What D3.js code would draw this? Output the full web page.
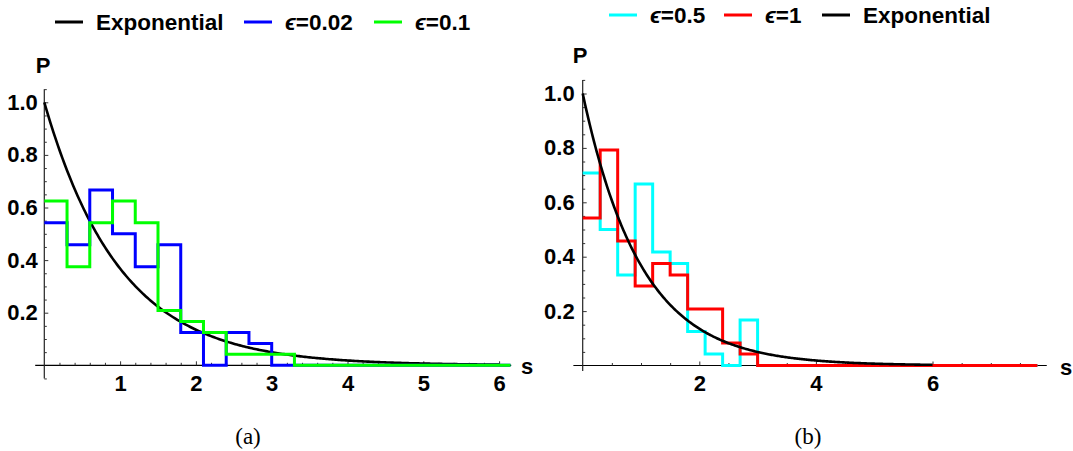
<!DOCTYPE html>
<html>
<head>
<meta charset="utf-8">
<script src="https://cdn.jsdelivr.net/npm/d3@7/dist/d3.min.js"></script>
<style>
  html, body { margin: 0; padding: 0; background: #fff; }
  svg text { font-family: "Liberation Sans", Arial, sans-serif; font-weight: bold; fill: #000; }
</style>
</head>
<body>
<svg id="chart" width="1073" height="451"></svg>
<script>
// ---------------- DATA ----------------
const binWidth = 0.3;                 // histogram bin width in s
// Panel (a) histograms (bins start at s = 0)
const eps002 = [0.542, 0.458, 0.667, 0.500, 0.375, 0.458, 0.125, 0.000, 0.125, 0.083, 0.000];
const eps01  = [0.625, 0.375, 0.542, 0.625, 0.542, 0.208, 0.167, 0.125, 0.042, 0.042, 0.042, 0.000];
const histEndA = 6.15;
// Panel (b) histograms
const eps05  = [0.708, 0.500, 0.333, 0.667, 0.417, 0.375, 0.125, 0.042, 0.000, 0.167, 0.000];
const eps1   = [0.542, 0.792, 0.458, 0.292, 0.375, 0.333, 0.208, 0.208, 0.083, 0.042, 0.000];
const histEndB = 7.8;
// Exponential reference curve P(s) = exp(-s), drawn for s in [0, 6]
const expRange = [0, 6];
// Ticks
const yMajorTicks = [0.2, 0.4, 0.6, 0.8, 1.0];
const yTickLabels = ["0.2", "0.4", "0.6", "0.8", "1.0"];
const xMajorTicksA = [1, 2, 3, 4, 5, 6];
const xMajorTicksB = [2, 4, 6];
const legendA = ["Exponential", "ϵ=0.02", "ϵ=0.1"];
const legendB = ["ϵ=0.5", "ϵ=1", "Exponential"];
const captions = ["(a)", "(b)"];

// ---------------- LAYOUT ----------------
const svg = d3.select("#chart");
svg.append("rect").attr("width", 1073).attr("height", 451).attr("fill", "#fff");

const colors = { exp: "#000000", e002: "#0000ff", e01: "#00ff00", e05: "#00ffff", e1: "#ff0000" };
const tickFont = 22, legFont = 22.5;

function stepPoints(vals, end) {
  const pts = vals.map((v, i) => [i * binWidth, v]);
  pts.push([end, vals[vals.length - 1]]);
  return pts;
}
function expPoints() {
  const n = 300, pts = [];
  for (let i = 0; i <= n; i++) {
    const s = expRange[0] + (expRange[1] - expRange[0]) * i / n;
    pts.push([s, Math.exp(-s)]);
  }
  return pts;
}

function panel(cfg) {
  const x = d3.scaleLinear().domain([0, 6]).range(cfg.xr);
  const y = d3.scaleLinear().domain([0, 1]).range(cfg.yr);
  const g = svg.append("g");

  // axis lines
  g.append("line").attr("x1", x(cfg.xAxisExt[0])).attr("x2", x(cfg.xAxisExt[1]))
    .attr("y1", y(0)).attr("y2", y(0)).attr("stroke", "#000").attr("stroke-width", 1.2);
  g.append("line").attr("x1", x(0)).attr("x2", x(0))
    .attr("y1", y(cfg.yAxisExt[0])).attr("y2", y(cfg.yAxisExt[1])).attr("stroke", "#222").attr("stroke-width", 1.2);

  const styleText = a => a.selectAll("text").attr("font-size", tickFont)
    .attr("font-family", "Liberation Sans, Arial, sans-serif").attr("font-weight", "bold").attr("fill", "#000");

  // x minor ticks
  const xMin = d3.range(Math.round(cfg.xMinorEnd / cfg.xMinorStep) + 1).map(i => +(i * cfg.xMinorStep).toFixed(3))
    .filter(v => v > 0 && !cfg.xMajor.includes(v));
  g.append("g").attr("transform", `translate(0,${y(0)})`)
    .call(d3.axisBottom(x).tickValues(xMin).tickSize(-2.5).tickSizeOuter(0).tickFormat(""))
    .call(a => a.select(".domain").remove())
    .call(a => a.selectAll("line").attr("stroke", "#333"));
  // x major ticks + labels
  g.append("g").attr("transform", `translate(0,${y(0)})`)
    .call(d3.axisBottom(x).tickValues(cfg.xMajor).tickSize(-4).tickSizeOuter(0).tickPadding(10).tickFormat(d3.format("d")))
    .call(a => a.select(".domain").remove())
    .call(a => a.selectAll("line").attr("stroke", "#333"))
    .call(styleText);

  // y minor ticks
  const yMin = d3.range(-1, 22).map(i => +(i * 0.05).toFixed(3))
    .filter(v => v >= cfg.yAxisExt[0] - 1e-6 && v <= cfg.yAxisExt[1] + 1e-6 && v !== 0 && !yMajorTicks.includes(v));
  g.append("g").attr("transform", `translate(${x(0)},0)`)
    .call(d3.axisLeft(y).tickValues(yMin).tickSize(-2.5).tickSizeOuter(0).tickFormat(""))
    .call(a => a.select(".domain").remove())
    .call(a => a.selectAll("line").attr("stroke", "#333"));
  g.append("g").attr("transform", `translate(${x(0)},0)`)
    .call(d3.axisLeft(y).tickValues(yMajorTicks).tickSize(-4).tickSizeOuter(0).tickPadding(cfg.yPad)
      .tickFormat((d, i) => yTickLabels[i]))
    .call(a => a.select(".domain").remove())
    .call(a => a.selectAll("line").attr("stroke", "#333"))
    .call(styleText);

  // axis labels
  g.append("text").attr("x", cfg.pPos[0]).attr("y", cfg.pPos[1]).attr("text-anchor", "middle").attr("font-size", tickFont).text("P");
  g.append("text").attr("x", cfg.sPos[0]).attr("y", cfg.sPos[1]).attr("text-anchor", "middle").attr("font-size", tickFont).text("s");

  const line = d3.line().x(d => x(d[0])).y(d => y(d[1]));
  const stepLine = d3.line().x(d => x(d[0])).y(d => y(d[1])).curve(d3.curveStepAfter);

  cfg.series.forEach(s => {
    if (s.type === "exp") {
      g.append("path").attr("d", line(expPoints())).attr("fill", "none")
        .attr("stroke", s.color).attr("stroke-width", 2.6);
    } else {
      g.append("path").attr("d", stepLine(stepPoints(s.values, s.end))).attr("fill", "none")
        .attr("stroke", s.color).attr("stroke-width", 3);
    }
  });

  // legend
  cfg.legend.forEach((L) => {
    g.append("line").attr("x1", L.x).attr("x2", L.x + 28).attr("y1", cfg.legY).attr("y2", cfg.legY)
      .attr("stroke", L.color).attr("stroke-width", 3);
    const t = g.append("text").attr("x", L.x + 41).attr("y", cfg.legY + 7.5).attr("font-size", legFont);
    if (L.label.startsWith("ϵ")) {
      t.append("tspan").attr("font-style", "italic").text("ϵ");
      t.append("tspan").text(L.label.slice(1));
    } else {
      t.text(L.label);
    }
  });

  // caption
  svg.append("text").attr("x", cfg.capX).attr("y", 444).attr("text-anchor", "middle")
    .attr("font-size", 23)
    .style("font-family", "'Liberation Serif', 'DejaVu Serif', serif").style("font-weight", "normal")
    .text(cfg.caption);
}

panel({
  xr: [44.3, 44.3 + 6 * 75.8],
  yr: [365.3, 365.3 - 263],
  xAxisExt: [-0.12, 6.16],
  yAxisExt: [-0.05, 1.05],
  xMinorStep: 0.2, xMinorEnd: 6.0, xMajor: xMajorTicksA,
  yPad: 6.5,
  pPos: [43, 73], sPos: [527, 374],
  series: [
    { type: "exp", color: colors.exp },
    { values: eps002, end: histEndA, color: colors.e002 },
    { values: eps01, end: histEndA, color: colors.e01 }
  ],
  legY: 22,
  legend: [
    { x: 55, color: colors.exp, label: legendA[0] },
    { x: 244, color: colors.e002, label: legendA[1] },
    { x: 374, color: colors.e01, label: legendA[2] }
  ],
  capX: 248, caption: captions[0]
});

panel({
  xr: [582.7, 582.7 + 6 * 58.3],
  yr: [365.5, 365.5 - 272],
  xAxisExt: [-0.16, 7.96],
  yAxisExt: [-0.02, 1.05],
  xMinorStep: 0.5, xMinorEnd: 7.5, xMajor: xMajorTicksB,
  yPad: 8,
  pPos: [580, 63], sPos: [1066, 375],
  series: [
    { values: eps05, end: histEndB, color: colors.e05 },
    { values: eps1, end: histEndB, color: colors.e1 },
    { type: "exp", color: colors.exp }
  ],
  legY: 15,
  legend: [
    { x: 609, color: colors.e05, label: legendB[0] },
    { x: 724, color: colors.e1, label: legendB[1] },
    { x: 822, color: colors.exp, label: legendB[2] }
  ],
  capX: 808, caption: captions[1]
});
</script>
</body>
</html>
